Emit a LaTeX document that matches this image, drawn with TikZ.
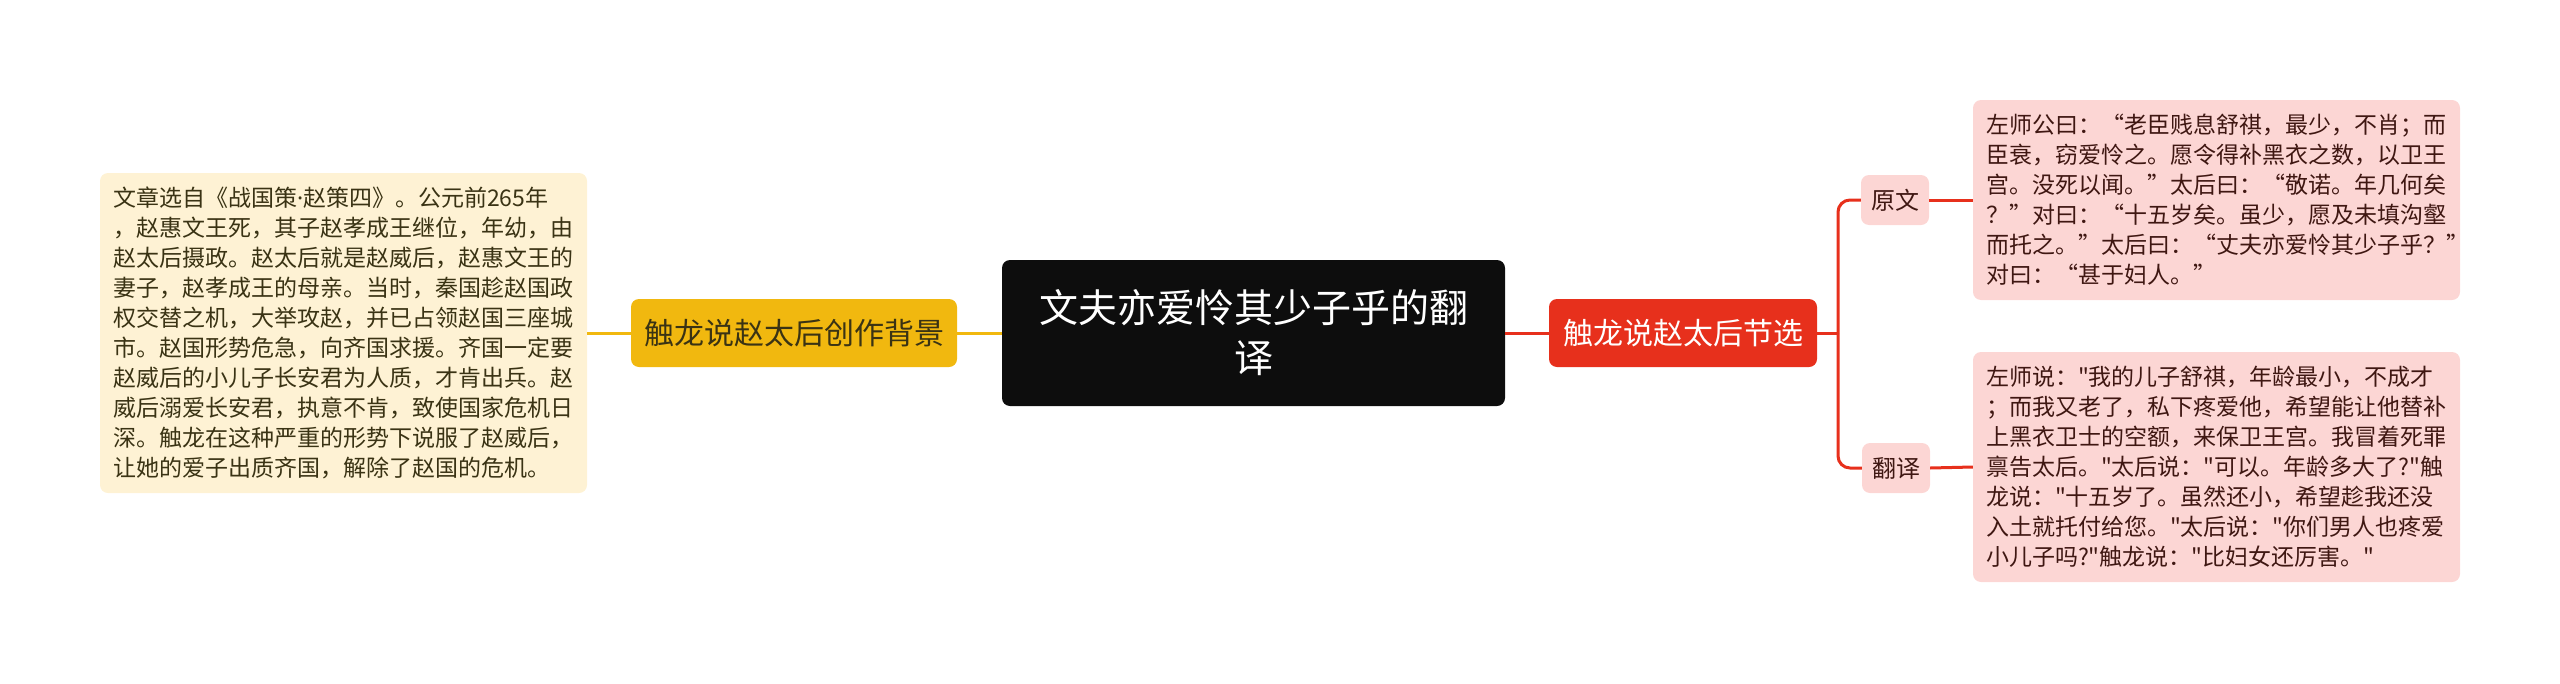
\documentclass[tikz,border=0pt]{standalone}
\usepackage{fontspec}
\newfontfamily\cjk{Noto Sans CJK SC}
\newfontfamily\latn{Noto Sans}
\usetikzlibrary{positioning}

\definecolor{rootblack}{HTML}{0D0D0D}
\definecolor{bggold}{HTML}{F1B80F}
\definecolor{bgcream}{HTML}{FEF2D4}
\definecolor{bgink}{HTML}{3A3314}
\definecolor{selred}{HTML}{E7301C}
\definecolor{selpink}{HTML}{FCD6D4}
\definecolor{selink}{HTML}{3F1712}

\tikzset{
    rootbox/.style={fill=rootblack, text=white, rounded corners=8pt, align=center,
        minimum width=503pt, minimum height=146pt, font=\cjk\fontsize{39}{50}\selectfont},
    topicbox/.style={rounded corners=8pt, minimum height=68pt, inner xsep=0pt,
        font=\cjk\fontsize{30}{36}\selectfont},
    tagbox/.style={fill=selpink, text=selink, rounded corners=8pt, minimum width=68pt,
        minimum height=50pt, inner xsep=0pt, font=\cjk\fontsize{24}{28}\selectfont},
    leafbox/.style={rounded corners=8pt, inner xsep=13pt, inner ysep=0pt, text width=461pt,
        align=left, font=\cjk\fontsize{23}{30}\selectfont},
    goldline/.style={draw=bggold, line width=3pt},
    redline/.style={draw=selred, line width=3pt},
}

\begin{document}
\begin{tikzpicture}[x=1pt,y=-1pt]
    \useasboundingbox (0,0) rectangle (2560,683);

    \node[rootbox] (root) at (1253.5,333) {文夫亦爱怜其少子乎的翻\\译};

    % left side: background
    \node[topicbox, fill=bggold, text=bgink, minimum width=326pt] (bg) at (794,333) {触龙说赵太后创作背景};
    \node[leafbox, fill=bgcream, text=bgink, minimum height=320pt] (bgtext) at (343.5,333) {%
        文章选自《战国策{\latn ·}赵策四》。公元前265年\\
        ，赵惠文王死，其子赵孝成王继位，年幼，由\\
        赵太后摄政。赵太后就是赵威后，赵惠文王的\\
        妻子，赵孝成王的母亲。当时，秦国趁赵国政\\
        权交替之机，大举攻赵，并已占领赵国三座城\\
        市。赵国形势危急，向齐国求援。齐国一定要\\
        赵威后的小儿子长安君为人质，才肯出兵。赵\\
        威后溺爱长安君，执意不肯，致使国家危机日\\
        深。触龙在这种严重的形势下说服了赵威后，\\
        让她的爱子出质齐国，解除了赵国的危机。};

    % right side: selection
    \node[topicbox, fill=selred, text=white, minimum width=268pt] (sel) at (1683,333) {触龙说赵太后节选};
    \node[tagbox] (yuan) at (1895,200) {原文};
    \node[tagbox] (fan) at (1896,468) {翻译};
    \node[leafbox, fill=selpink, text=selink, minimum height=200pt] (yuantext) at (2216.5,200) {%
        左师公曰：“老臣贱息舒祺，最少，不肖；而\\
        臣衰，窃爱怜之。愿令得补黑衣之数，以卫王\\
        宫。没死以闻。”太后曰：“敬诺。年几何矣\\
        ？”对曰：“十五岁矣。虽少，愿及未填沟壑\\
        而托之。”太后曰：“丈夫亦爱怜其少子乎？”\\
        对曰：“甚于妇人。”};
    \node[leafbox, fill=selpink, text=selink, minimum height=230pt] (fantext) at (2216.5,467) {%
        左师说："我的儿子舒祺，年龄最小，不成才\\
        ；而我又老了，私下疼爱他，希望能让他替补\\
        上黑衣卫士的空额，来保卫王宫。我冒着死罪\\
        禀告太后。"太后说："可以。年龄多大了?"触\\
        龙说："十五岁了。虽然还小，希望趁我还没\\
        入土就托付给您。"太后说："你们男人也疼爱\\
        小儿子吗?"触龙说："比妇女还厉害。"};

    % connectors
    \draw[goldline] (bgtext.east) -- (bg.west);
    \draw[goldline] (bg.east) -- (root.west);
    \draw[redline] (root.east) -- (sel.west);
    \coordinate (fork) at (1838,333);
    \draw[redline] (sel.east) -- (fork);
    \draw[redline, rounded corners=12pt] (fork) |- (yuan.west);
    \draw[redline, rounded corners=12pt] (fork) |- (fan.west);
    \foreach \a/\b in {yuan/yuantext, fan/fantext} {
        \draw[redline] (\a.east) -- (\b.west);
    }
\end{tikzpicture}
\end{document}
